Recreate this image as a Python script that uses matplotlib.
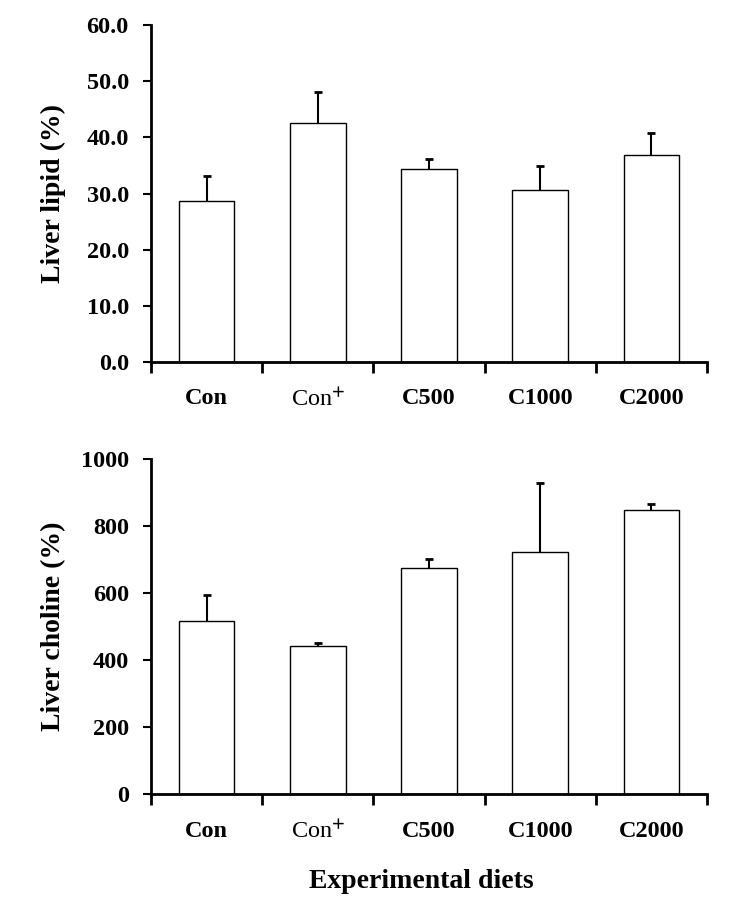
import numpy as np
from matplotlib import pyplot as plt

diets = ["Con", "Con$^{+}$", "C500", "C1000", "C2000"]
lipid = [28.7, 42.5, 34.3, 30.7, 36.8]
lipid_err = [4.5, 5.6, 1.9, 4.2, 4.0]
choline = [517, 441, 674, 722, 847]
choline_err = [77, 11, 27, 207, 18]

plt.rcParams['font.family'] = 'Liberation Serif'
plt.rcParams['font.weight'] = 'bold'
plt.rcParams['mathtext.fontset'] = 'stix'

fig = plt.figure(figsize=(7.49, 9.11), dpi=100)
ax1 = fig.add_axes([151/749, 1-362/911, 556/749, 337/911])
ax2 = fig.add_axes([151/749, 1-794.3/911, 556/749, 335.3/911])

x = np.arange(len(diets))


def draw(ax, vals, errs, ylim, yticks, fmt, ylabel):
    vals = np.array(vals)
    errs = np.array(errs)
    ax.bar(x, vals, width=0.5, color='white', edgecolor='black', linewidth=1, zorder=2)
    # upper error bars only, cap on top
    ax.vlines(x, vals, vals + errs, color='black', linewidth=1.5, zorder=1)
    ax.plot(x, vals + errs, linestyle='none', marker='_', markersize=6,
            markeredgewidth=2, color='black', zorder=3)
    ax.set_xlim(-0.5, 4.5)
    ax.set_ylim(*ylim)
    ax.set_yticks(yticks)
    ax.set_yticklabels([fmt.format(v) for v in yticks], fontsize=17.5, fontweight='bold')
    ax.set_xticks(np.arange(-0.5, 5.0, 1.0))
    ax.set_xticklabels([])
    ax.set_xticks(x, minor=True)
    ax.set_xticklabels(diets, minor=True, fontsize=17.5)
    for i, lab in enumerate(ax.get_xticklabels(minor=True)):
        lab.set_fontweight('normal' if i == 1 else 'bold')
    ax.tick_params(axis='x', which='major', direction='out', length=8, width=2)
    ax.tick_params(axis='x', which='minor', length=0, pad=19)
    ax.tick_params(axis='y', direction='out', length=6, width=1.5, pad=10)
    for s in ['top', 'right']:
        ax.spines[s].set_visible(False)
    for s in ['left', 'bottom']:
        ax.spines[s].set_linewidth(2)
    ax.set_ylabel(ylabel, fontsize=20, fontweight='bold')
    ax.yaxis.set_label_coords(-0.153, 0.5)


draw(ax1, lipid, lipid_err, (0, 60), np.arange(0, 61, 10), "{:.1f}", "Liver lipid (%)")
draw(ax2, choline, choline_err, (0, 1000), np.arange(0, 1001, 200), "{:.0f}", "Liver choline (%)")

fig.text(421.5/749, 1-882/911, "Experimental diets", fontsize=20, fontweight='bold',
         ha='center', va='center')

fig.savefig('out.png', dpi=100)
